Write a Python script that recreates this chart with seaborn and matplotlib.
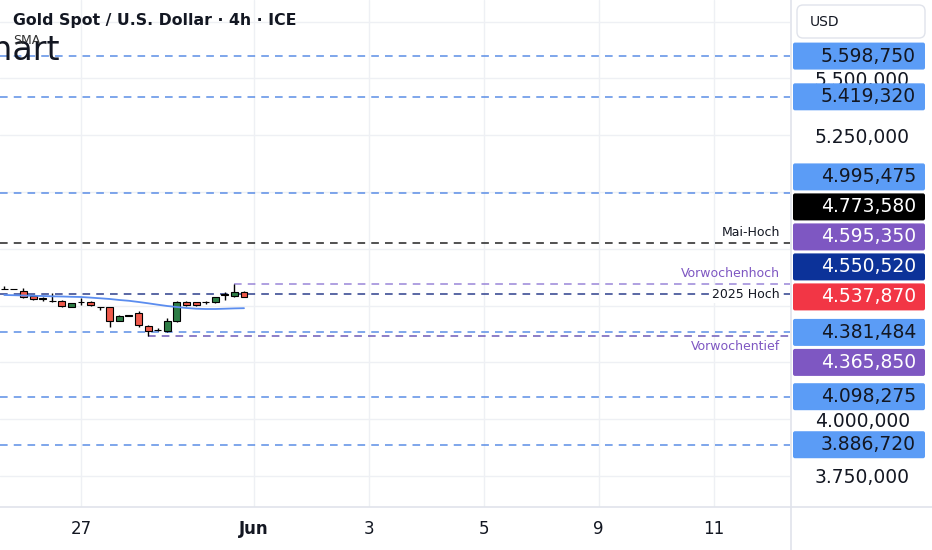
import matplotlib
matplotlib.use("Agg")
import matplotlib.pyplot as plt
import matplotlib.patches as patches
from matplotlib.transforms import IdentityTransform
import seaborn as sns
import numpy as np
import pandas as pd

# 4h candles, first visible bar = 25 May 16:00
opens  = [4572, 4573, 4566, 4542, 4530, 4521, 4519, 4495, 4514, 4514, 4493, 4492, 4433,
          4455, 4467, 4411, 4391, 4389, 4431, 4514, 4514, 4514, 4515, 4546, 4541, 4560]
highs  = [4584, 4574, 4577, 4546, 4537, 4555, 4526, 4512, 4533, 4518, 4494, 4495, 4457,
          4458, 4476, 4413, 4400, 4446, 4520, 4520, 4516, 4519, 4538, 4560, 4595.35, 4564]
lows   = [4571, 4571, 4533, 4524, 4522, 4516, 4492, 4493, 4504, 4499, 4482, 4405, 4431,
          4453, 4405, 4365.85, 4387, 4385, 4427, 4499, 4499, 4507, 4513, 4526, 4539, 4536]
closes = [4573, 4572, 4538, 4530, 4529, 4519, 4497, 4510, 4515, 4501, 4492, 4430, 4455,
          4456, 4413, 4389, 4392, 4433, 4516, 4501, 4501, 4515, 4536, 4548, 4560, 4537.87]
sma    = [4546.3, 4545.4, 4544.1, 4542.7, 4541.9, 4540.5, 4539.7, 4538.4, 4537.5, 4534.8,
          4531.8, 4528.7, 4524.3, 4520.8, 4515.5, 4509.8, 4503.6, 4497.8, 4493.4, 4489.0,
          4485.9, 4484.6, 4484.6, 4485.9, 4487.3, 4488.2]

# horizontal levels drawn on the chart
level_prices = [5598.750, 5419.320, 4995.475, 4773.580, 4595.350, 4550.520,
                4381.484, 4365.850, 4098.275, 3886.720]
level_names  = ["", "", "", "Mai-Hoch", "Vorwochenhoch", "2025 Hoch",
                "", "Vorwochentief", "", ""]
level_kinds  = ["zone", "zone", "zone", "month", "week_hi", "year",
                "zone", "week_lo", "zone", "zone"]
last_price = 4537.870

tick_dates  = ["2026-05-27", "2026-06-01", "2026-06-03", "2026-06-05", "2026-06-09", "2026-06-11"]
tick_labels = ["27", "Jun", "3", "5", "9", "11"]
price_ticks = [3750, 4000, 4250, 4500, 4750, 5000, 5250, 5500, 5750]

W, H = 932, 550
TXT = "#131722"
GRID = "#eef0f4"
SEP = "#e0e3eb"
line_col = {"zone": "#5b8ee6", "month": "#222222", "week_hi": "#9a86d8",
            "week_lo": "#6d5bb8", "year": "#2c3e8c"}
box_col = {"zone": "#5b9cf6", "month": "#000000", "week_hi": "#7e57c2",
           "week_lo": "#7e57c2", "year": "#0c3299", "last": "#f23645"}
box_txt = {"zone": TXT, "month": "white", "week_hi": "white", "week_lo": "white",
           "year": "white", "last": "white"}
name_col = {"month": TXT, "week_hi": "#7e57c2", "week_lo": "#7e57c2", "year": TXT}


def fmt(v):
    s = f"{v:,.3f}"
    return s.replace(",", "X").replace(".", ",").replace("X", ".")


sns.set_theme(style="white")
plt.rcParams["font.family"] = ["DejaVu Sans"]

df = pd.DataFrame({"open": opens, "high": highs, "low": lows, "close": closes, "sma": sma})
df["bar"] = np.arange(len(df))

# trading-day calendar: 6 bars per day, bar 0 is the 5th bar of 25 May
days = pd.bdate_range("2026-05-25", "2026-06-12")
tick_bars = [6 * days.get_loc(pd.Timestamp(d)) - 4 for d in tick_dates]

fig = plt.figure(figsize=(W / 100, H / 100), dpi=100)
ax = fig.add_axes([0, 43 / H, 790 / W, 507 / H])
ax.set_xlim(-0.45, 81.95)
ax.set_ylim(3612.4, 5845.8)
for s in ax.spines.values():
    s.set_visible(False)

# grid
ax.set_xticks(tick_bars)
ax.set_yticks(price_ticks)
ax.grid(True, color=GRID, lw=1)
ax.set_axisbelow(True)

# candles
up = df["close"] >= df["open"]
ax.vlines(df["bar"], df["low"], df["high"], color="black", lw=1, zorder=3)
body = (df["close"] - df["open"]).abs().clip(lower=2.5)
bottom = df[["open", "close"]].min(axis=1)
ax.bar(df["bar"], body, bottom=bottom, width=0.72,
       color=np.where(up, "#2e7d46", "#ef5a4c"), edgecolor="black", lw=0.8, zorder=4)

# SMA
sns.lineplot(data=df, x="bar", y="sma", ax=ax, color="#5b8def", lw=1.3, zorder=5)
ax.set_xlabel("")
ax.set_ylabel("")

# levels
x_right = ax.get_xlim()[1]
for p, name, kind in zip(level_prices, level_names, level_kinds):
    start = ax.get_xlim()[0]
    if kind == "week_hi":
        start = df["bar"][df["high"].idxmax()]
    elif kind == "week_lo":
        start = df["bar"][df["low"].idxmin()]
    ax.hlines(p, start, x_right, colors=line_col[kind], lw=1.1,
              linestyles=(0, (5, 4)), zorder=2)
    if name:
        tr = ax.get_yaxis_transform()
        if kind == "year":
            ax.text(0.987, p, name, transform=tr, ha="right", va="center", fontsize=9,
                    color=name_col[kind], zorder=6,
                    bbox=dict(fc="white", ec="none", pad=1.5))
        elif kind == "week_lo":
            ax.annotate(name, (0.987, p), xycoords=tr, xytext=(0, -4),
                        textcoords="offset pixels", ha="right", va="top",
                        fontsize=9, color=name_col[kind])
        else:
            ax.annotate(name, (0.987, p), xycoords=tr, xytext=(0, 4),
                        textcoords="offset pixels", ha="right", va="bottom",
                        fontsize=9, color=name_col[kind])

# price-scale labels, stacked around the last price like the platform does
def to_px(p):
    return ax.transData.transform((0, p))[1]

step = 30
items = [(p, k) for p, k in zip(level_prices, level_kinds)]
placed = [(last_price, "last", to_px(last_price))]
prev = placed[0][2]
for p, k in sorted([i for i in items if i[0] > last_price]):
    y = max(to_px(p), prev + step)
    placed.append((p, k, y))
    prev = y
prev = placed[0][2]
for p, k in sorted([i for i in items if i[0] < last_price], reverse=True):
    y = min(to_px(p), prev - step)
    placed.append((p, k, y))
    prev = y

for p, k, y in placed:
    box = patches.FancyBboxPatch((793, y - 13.5), 132, 27,
                                 boxstyle="round,pad=0,rounding_size=2",
                                 fc=box_col[k], ec="none",
                                 transform=IdentityTransform(), zorder=5)
    fig.add_artist(box)
    fig.text(916, y, fmt(p), transform=IdentityTransform(), ha="right",
             va="center", fontsize=13.5, color=box_txt[k], zorder=6)

# axis tick labels (hidden where a price label covers them)
boxes_y = [y for _, _, y in placed]
hidden = {t for t in price_ticks if any(abs(to_px(t) - by) < 17.5 for by in boxes_y)}
ax.yaxis.tick_right()
ax.yaxis.set_major_formatter(plt.FuncFormatter(lambda v, _: "" if v in hidden else fmt(v)))
ax.tick_params(axis="y", length=0, pad=18, labelsize=13.5, labelcolor=TXT)
ax.set_xticklabels(tick_labels)
ax.tick_params(axis="x", length=0, pad=9, labelsize=12, labelcolor=TXT)
ax.get_xticklabels()[1].set_fontweight("bold")

# panel separators
fig.add_artist(plt.Line2D([791 / W, 791 / W], [0, 1], color=SEP, lw=1.2))
fig.add_artist(plt.Line2D([0, 1], [43 / H, 43 / H], color=SEP, lw=1.2))

# USD box
usd = patches.FancyBboxPatch((797, H - 38), 128, 33, boxstyle="round,pad=0,rounding_size=6",
                             fc="white", ec=SEP, lw=1, transform=IdentityTransform(), zorder=5)
fig.add_artist(usd)
fig.text(810, H - 22, "USD", transform=IdentityTransform(), ha="left", va="center",
         fontsize=10, color=TXT, zorder=6)

# header
fig.text(60 / W, 1 - 50 / H, "Chart", ha="right", va="center", fontsize=24, color=TXT)
fig.text(13 / W, 1 - 21 / H, "Gold Spot / U.S. Dollar · 4h · ICE", ha="left", va="center",
         fontsize=11.3, fontweight="bold", color=TXT)
fig.text(13 / W, 1 - 40 / H, "SMA", ha="left", va="center", fontsize=9, color="#333333")

fig.savefig("out.png", dpi=100)
